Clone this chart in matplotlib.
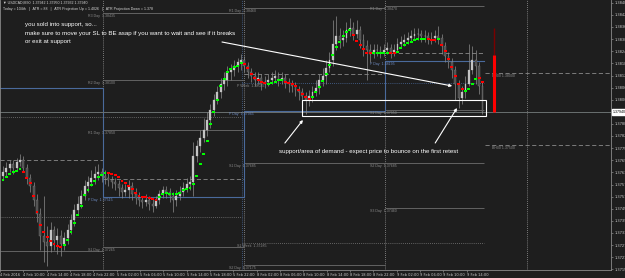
import matplotlib.pyplot as plt
import numpy as np
from matplotlib.patches import Rectangle
from matplotlib.transforms import blended_transform_factory

# USDCAD M30 candles
opens = [1.3762, 1.3764, 1.3766, 1.3768, 1.3766, 1.3769, 1.3770, 1.3766, 1.3761, 1.3757,
         1.3750, 1.3743, 1.3732, 1.3729, 1.3727, 1.3735, 1.3730, 1.3732, 1.3728, 1.3731,
         1.3735, 1.3740, 1.3745, 1.3748, 1.3752, 1.3757, 1.3759, 1.3761, 1.3763, 1.3764,
         1.3762, 1.3761, 1.3760, 1.3759, 1.3758, 1.3756, 1.3754, 1.3755, 1.3757, 1.3753,
         1.3751, 1.3750, 1.3749, 1.3750, 1.3748, 1.3747, 1.3750, 1.3753, 1.3755, 1.3754,
         1.3752, 1.3750, 1.3752, 1.3754, 1.3756, 1.3758, 1.3759, 1.3772, 1.3777, 1.3781,
         1.3785, 1.3790, 1.3795, 1.3800, 1.3804, 1.3808, 1.3810, 1.3814, 1.3815, 1.3817,
         1.3819, 1.3820, 1.3817, 1.3814, 1.3812, 1.3810, 1.3811, 1.3808, 1.3809, 1.3810,
         1.3811, 1.3812, 1.3810, 1.3811, 1.3809, 1.3808, 1.3807, 1.3805, 1.3804, 1.3802,
         1.3800, 1.3802, 1.3804, 1.3806, 1.3810, 1.3812, 1.3816, 1.3820, 1.3828, 1.3832,
         1.3830, 1.3831, 1.3835, 1.3836, 1.3833, 1.3835, 1.3830, 1.3827, 1.3825, 1.3823,
         1.3825, 1.3825, 1.3824, 1.3825, 1.3826, 1.3824, 1.3825, 1.3828, 1.3829, 1.3830,
         1.3831, 1.3832, 1.3833, 1.3833, 1.3832, 1.3832, 1.3831, 1.3831, 1.3832, 1.3831,
         1.3827, 1.3822, 1.3819, 1.3815, 1.3808, 1.3801, 1.3804, 1.3808, 1.3815, 1.3820,
         1.3817, 1.3807]
highs = [1.3767, 1.3769, 1.3770, 1.3770, 1.3771, 1.3773, 1.3772, 1.3768, 1.3763, 1.3759,
         1.3753, 1.3746, 1.3752, 1.3737, 1.3739, 1.3737, 1.3736, 1.3735, 1.3734, 1.3738,
         1.3743, 1.3748, 1.3752, 1.3755, 1.3760, 1.3762, 1.3765, 1.3767, 1.3768, 1.3766,
         1.3765, 1.3764, 1.3762, 1.3761, 1.3760, 1.3758, 1.3758, 1.3760, 1.3759, 1.3756,
         1.3754, 1.3752, 1.3753, 1.3752, 1.3751, 1.3752, 1.3755, 1.3757, 1.3757, 1.3756,
         1.3754, 1.3755, 1.3757, 1.3759, 1.3761, 1.3762, 1.3779, 1.3780, 1.3785, 1.3791,
         1.3794, 1.3798, 1.3803, 1.3807, 1.3811, 1.3814, 1.3817, 1.3818, 1.3820, 1.3821,
         1.3823, 1.3822, 1.3819, 1.3816, 1.3814, 1.3814, 1.3813, 1.3812, 1.3813, 1.3814,
         1.3815, 1.3814, 1.3814, 1.3813, 1.3811, 1.3810, 1.3809, 1.3807, 1.3806, 1.3804,
         1.3805, 1.3807, 1.3810, 1.3813, 1.3816, 1.3820, 1.3824, 1.3840, 1.3842, 1.3836,
         1.3835, 1.3839, 1.3841, 1.3839, 1.3840, 1.3837, 1.3833, 1.3830, 1.3828, 1.3828,
         1.3828, 1.3827, 1.3828, 1.3829, 1.3828, 1.3828, 1.3831, 1.3832, 1.3833, 1.3834,
         1.3835, 1.3836, 1.3836, 1.3835, 1.3835, 1.3834, 1.3834, 1.3835, 1.3837, 1.3833,
         1.3829, 1.3824, 1.3821, 1.3817, 1.3810, 1.3807, 1.3812, 1.3828, 1.3827, 1.3825,
         1.3819, 1.3809]
lows = [1.3760, 1.3762, 1.3764, 1.3763, 1.3765, 1.3767, 1.3764, 1.3758, 1.3754, 1.3747,
        1.3739, 1.3725, 1.3719, 1.3717, 1.3724, 1.3725, 1.3723, 1.3722, 1.3725, 1.3728,
        1.3733, 1.3737, 1.3743, 1.3746, 1.3750, 1.3754, 1.3757, 1.3758, 1.3760, 1.3759,
        1.3758, 1.3757, 1.3756, 1.3755, 1.3752, 1.3751, 1.3752, 1.3751, 1.3750, 1.3748,
        1.3747, 1.3746, 1.3747, 1.3745, 1.3744, 1.3746, 1.3748, 1.3751, 1.3751, 1.3749,
        1.3744, 1.3747, 1.3750, 1.3752, 1.3754, 1.3755, 1.3752, 1.3769, 1.3774, 1.3779,
        1.3782, 1.3786, 1.3792, 1.3798, 1.3801, 1.3805, 1.3807, 1.3810, 1.3812, 1.3814,
        1.3815, 1.3814, 1.3811, 1.3809, 1.3807, 1.3808, 1.3805, 1.3806, 1.3807, 1.3808,
        1.3809, 1.3807, 1.3808, 1.3806, 1.3804, 1.3804, 1.3802, 1.3800, 1.3792, 1.3793,
        1.3797, 1.3799, 1.3802, 1.3803, 1.3807, 1.3808, 1.3814, 1.3817, 1.3825, 1.3826,
        1.3827, 1.3829, 1.3832, 1.3830, 1.3831, 1.3826, 1.3822, 1.3810, 1.3819, 1.3821,
        1.3822, 1.3821, 1.3822, 1.3823, 1.3821, 1.3822, 1.3824, 1.3826, 1.3827, 1.3828,
        1.3829, 1.3830, 1.3830, 1.3829, 1.3829, 1.3828, 1.3828, 1.3829, 1.3828, 1.3823,
        1.3819, 1.3816, 1.3811, 1.3800, 1.3796, 1.3798, 1.3801, 1.3807, 1.3813, 1.3808,
        1.3803, 1.3793]
closes = [1.3764, 1.3766, 1.3768, 1.3766, 1.3769, 1.3770, 1.3766, 1.3761, 1.3757, 1.3750,
          1.3743, 1.3732, 1.3729, 1.3727, 1.3735, 1.3730, 1.3732, 1.3728, 1.3731, 1.3735,
          1.3740, 1.3745, 1.3748, 1.3752, 1.3757, 1.3759, 1.3761, 1.3763, 1.3764, 1.3762,
          1.3761, 1.3760, 1.3759, 1.3758, 1.3756, 1.3754, 1.3755, 1.3757, 1.3753, 1.3751,
          1.3750, 1.3749, 1.3750, 1.3748, 1.3747, 1.3750, 1.3753, 1.3755, 1.3754, 1.3752,
          1.3750, 1.3752, 1.3754, 1.3756, 1.3758, 1.3759, 1.3772, 1.3777, 1.3781, 1.3785,
          1.3790, 1.3795, 1.3800, 1.3804, 1.3808, 1.3810, 1.3814, 1.3815, 1.3817, 1.3819,
          1.3820, 1.3817, 1.3814, 1.3812, 1.3810, 1.3811, 1.3808, 1.3809, 1.3810, 1.3811,
          1.3812, 1.3810, 1.3811, 1.3809, 1.3808, 1.3807, 1.3805, 1.3804, 1.3802, 1.3800,
          1.3802, 1.3804, 1.3806, 1.3810, 1.3812, 1.3816, 1.3820, 1.3828, 1.3832, 1.3830,
          1.3831, 1.3835, 1.3836, 1.3833, 1.3835, 1.3830, 1.3827, 1.3825, 1.3823, 1.3825,
          1.3825, 1.3824, 1.3825, 1.3826, 1.3824, 1.3825, 1.3828, 1.3829, 1.3830, 1.3831,
          1.3832, 1.3833, 1.3833, 1.3832, 1.3832, 1.3831, 1.3831, 1.3832, 1.3831, 1.3827,
          1.3822, 1.3819, 1.3815, 1.3808, 1.3801, 1.3804, 1.3808, 1.3815, 1.3820, 1.3817,
          1.3807, 1.3794]

# trend dots, G = rising (green), R = falling (red)
trend = [1.3760, 1.37615, 1.3763, 1.3764, 1.37645, 1.37655, 1.3764, 1.3761, 1.37585, 1.3752,
         1.3744, 1.37375, 1.3734, 1.37315, 1.37295, 1.3728, 1.3727, 1.37265, 1.37275, 1.3730,
         1.3734, 1.37385, 1.37425, 1.3747, 1.37525, 1.3755, 1.37575, 1.37595, 1.37615, 1.37625,
         1.37635, 1.37635, 1.3763, 1.37625, 1.37615, 1.37595, 1.37585, 1.3757, 1.37555, 1.37535,
         1.3752, 1.37515, 1.37515, 1.3751, 1.37505, 1.3750, 1.37515, 1.3753, 1.37535, 1.3753,
         1.3753, 1.3753, 1.37535, 1.3755, 1.37555, 1.3756, 1.3758, 1.3762, 1.3768, 1.3773,
         1.37795, 1.3788, 1.3794, 1.3800, 1.3807, 1.38105, 1.3814, 1.38155, 1.38165, 1.3817,
         1.38185, 1.3818, 1.3816, 1.3813, 1.3811, 1.3810, 1.3809, 1.38085, 1.3808, 1.38085,
         1.3809, 1.3810, 1.3810, 1.3809, 1.38085, 1.3808, 1.3807, 1.3805, 1.3803, 1.38015,
         1.38005, 1.38015, 1.3804, 1.38065, 1.38095, 1.3813, 1.38175, 1.38225, 1.38265, 1.3829,
         1.3832, 1.3834, 1.3835, 1.38325, 1.38295, 1.38275, 1.38255, 1.38235, 1.38235, 1.38235,
         1.38235, 1.38235, 1.38235, 1.38235, 1.38235, 1.38235, 1.3824, 1.3826, 1.38275, 1.38285,
         1.3829, 1.3830, 1.38305, 1.38305, 1.38305, 1.38305, 1.3830, 1.3830, 1.38305, 1.38275,
         1.38245, 1.38205, 1.38165, 1.3812, 1.3808, 1.38055, 1.38045, 1.38055, 1.3808, 1.38105,
         1.3811, 1.3809]
trend_dir = ("GGGGGGRRRR" "RRRRRRRRGG" "GGGGGGGGGG" "GRRRRRRRRR" "RRRRRRGGGG"
             "GGGGGGGGGG" "GGGGGGGGGG" "GRRRRRRRGG" "GGGRRRRRRR" "RGGGGGGGGG"
             "GGGRRRRRRG" "GGGGRRGGGG" "GGGGGRRRGR" "RRRRRRGGGG" "RR")

# daily pivots (4, 5, 8, 9 Feb)
day_edges = [-0.9, 29.4, 71.0, 112.4, 154.1]
day_pivot = [1.3806, 1.37515, 1.37945, 1.38195]
day_levels = {
    "R3": [None, 1.38435, None, None],
    "R2": [None, 1.3810, None, None],
    "R1": [None, 1.3785, 1.3846, 1.3847],
    "S1": [1.37245, 1.37265, 1.37685, 1.3795],
    "S2": [None, None, 1.37175, 1.37685],
    "S3": [None, None, None, 1.3746],
}
day_mid = [1.3770, 1.37605, 1.3813, 1.38235]

# weekly levels
week_edges = [-0.9, 70.3, 141.5]
week_lines = [[1.37915, 1.37415], [1.38085, 1.37285]]
week_names = [[None, None], ["P Week", "S1 Week"]]

# round number lines on the right
round_lines = [1.38135, 1.37775]
round_names = ["BH00 1.38000", "BH00 1.37500"]

# ATR projection bar
atr_low, atr_mid, atr_high = 1.3794, 1.38225, 1.3836

time_labels = ["4 Feb 2016", "4 Feb 10:00", "4 Feb 14:00", "4 Feb 18:00", "4 Feb 22:00",
               "5 Feb 02:00", "5 Feb 06:00", "5 Feb 10:00", "5 Feb 14:00", "5 Feb 18:00",
               "5 Feb 22:00", "8 Feb 02:00", "8 Feb 06:00", "8 Feb 10:00", "8 Feb 14:00",
               "8 Feb 18:00", "8 Feb 22:00", "9 Feb 02:00", "9 Feb 06:00", "9 Feb 10:00",
               "9 Feb 14:00"]
# 1.37941 sits under the current price box
price_labels = ["1.38486", "1.38425", "1.38365", "1.38304", "1.38244", "1.38183", "1.38122",
                "1.38062", "1.38001", "1.37880", "1.37820", "1.37759", "1.37698",
                "1.37638", "1.37577", "1.37516", "1.37456", "1.37395", "1.37335", "1.37274",
                "1.37213", "1.37153"]

bg = "#1e1e1e"
grey = "#6e6e6e"
blue = "#4a6a9c"
small = 2.6
fam = ["Liberation Sans", "DejaVu Sans"]

fig = plt.figure(figsize=(6.25, 2.78), dpi=100, facecolor=bg)
ax = fig.add_axes([0, 8 / 278, 611 / 625, 270 / 278], facecolor=bg)
ax.set_xlim(-0.88, 178.8)
ax.set_ylim(1.3715, 1.3850)

# day separators
for e in day_edges[1:]:
    ax.axvline(e, color="#9a9a9a", lw=0.6, ls=(0, (1, 1.5)), zorder=1)
ax.axvline(week_edges[1], color=blue, lw=0.6, ls=(0, (1, 1.5)), zorder=1)

n = len(closes)
last = n - 0.5

# daily pivot lines
for d in range(len(day_pivot)):
    x0, x1 = day_edges[d], min(day_edges[d + 1], last)
    ax.hlines(day_mid[d], x0, x1, color="#8a8a8a", lw=0.6, ls=(0, (5, 3)), zorder=1)
    for name, vals in day_levels.items():
        if vals[d] is None:
            continue
        ax.hlines(vals[d], x0, x1, color=grey, lw=0.6, zorder=1)
        if d > 0:
            ax.text(x0 - 4.4, vals[d] - 0.00003, f"{name} Day  {vals[d]:.5f}", color="#8a8a8a",
                    fontsize=small, va="top", ha="left", family=fam, zorder=2)
    if d > 0:
        ax.text(x0 - 4.4, day_pivot[d] - 0.00003, f"P Day  {day_pivot[d]:.5f}", color="#6d8ac0",
                fontsize=small, va="top", ha="left", family=fam, zorder=2)
step_x = day_edges[:4] + [last]
ax.step(step_x, day_pivot + [day_pivot[-1]], where="post", color=blue, lw=0.8, zorder=1)

# weekly levels
for w in range(2):
    for v, name in zip(week_lines[w], week_names[w]):
        col = blue if name == "P Week" else "#7a7a7a"
        ax.hlines(v, week_edges[w], week_edges[w + 1], color=col, lw=0.6, ls=(0, (1, 1.5)), zorder=1)
        if name:
            ax.text(week_edges[w] - 1.6, v - 0.00003, f"{name}  {v:.5f}", color="#8a8a8a",
                    fontsize=small, va="top", ha="left", family=fam, zorder=2)

# round numbers in the empty area
for v, name in zip(round_lines, round_names):
    ax.hlines(v, last + 0.3, 178.8, color="#8a8a8a", lw=0.6, ls=(0, (5, 3)), zorder=1)
    ax.text(last + 2.3, v - 0.00004, name, color="#8a8a8a", fontsize=small, va="top",
            ha="left", family=fam, zorder=2)

# current price line
ax.axhline(closes[-1], color="#6a7070", lw=0.7, zorder=1)

# candles
x = np.arange(n)
o = np.array(opens)
c = np.array(closes)
up = c >= o
ax.vlines(x, lows, highs, color="#8c8c8c", lw=0.5, zorder=3)
ax.bar(x[up], (c - o)[up], bottom=o[up], width=0.55, color="#c4c4c4",
       edgecolor="#c4c4c4", lw=0.2, zorder=4)
ax.bar(x[~up], (c - o)[~up], bottom=o[~up], width=0.55, color="#4a4a4a",
       edgecolor="#9a9a9a", lw=0.2, zorder=4)

# trend dots
dot_col = ["#00ff00" if t == "G" else "#ff0000" for t in trend_dir]
ax.scatter(x, trend, c=dot_col, s=4.5, marker="s", lw=0, zorder=5)

# ATR projection bar
ax.vlines(144.4, atr_mid, atr_high, color="#7a0000", lw=1.0, zorder=4)
ax.vlines(144.4, atr_low, atr_mid, color="#ff0000", lw=2.2, zorder=4)

# annotations
note = "white"
ax.text(6.5, 1.38375, "you sold into support, so...", color=note, fontsize=4.4,
        va="center", ha="left", family=fam, zorder=6)
ax.text(6.5, 1.38334, "make sure to move your SL to BE asap if you want to wait and see if it breaks",
        color=note, fontsize=4.4, va="center", ha="left", family=fam, zorder=6)
ax.text(6.5, 1.38292, "or exit at support", color=note, fontsize=4.4,
        va="center", ha="left", family=fam, zorder=6)
ax.text(81.2, 1.3774, "support/area of demand - expect price to bounce on the first retest",
        color=note, fontsize=4.4, va="center", ha="left", family=fam, zorder=6)
ax.add_patch(Rectangle((87.9, 1.3792), 142.1 - 87.9, 0.0008, fill=False,
                       ec="white", lw=0.8, zorder=6))
arrow = dict(arrowstyle="-|>", color="white", lw=0.8, mutation_scale=4, shrinkA=0, shrinkB=0)
ax.annotate("", xy=(132.1, 1.3807), xytext=(64.4, 1.3829), arrowprops=arrow, zorder=6)
ax.annotate("", xy=(88.2, 1.3790), xytext=(82.9, 1.37785), arrowprops=arrow, zorder=6)
ax.annotate("", xy=(133.5, 1.3796), xytext=(127.1, 1.37785), arrowprops=arrow, zorder=6)

# header
ax.text(0.005, 0.997, "\u25bc USDCAD,M30  1.37942 1.37950 1.37932 1.37940", transform=ax.transAxes,
        color="#d8d8d8", fontsize=small, va="top", ha="left", family=fam)
ax.text(0.005, 0.975, "Today = 104th   |   ATR = 88   |   ATR Projection Up = 1.4026   |   ATR Projection Down = 1.378",
        transform=ax.transAxes, color="#d8d8d8", fontsize=small, va="top", ha="left", family=fam)

# axes
ax.spines["top"].set_visible(False)
for s in ["left", "right", "bottom"]:
    ax.spines[s].set_color("#8a8a8a")
    ax.spines[s].set_linewidth(0.6)
tick_pos = (np.arange(len(time_labels)) * 23.33 - 3) / 3.4
ax.set_xticks(tick_pos)
ax.set_xticklabels(time_labels)
ax.tick_params(axis="x", colors="#8a8a8a", labelcolor="#c8c8c8", labelsize=small,
               length=1.5, width=0.5, pad=1)
for t in ax.get_xticklabels():
    t.set_ha("left")
ax.yaxis.tick_right()
ax.set_yticks([float(p) for p in price_labels])
ax.set_yticklabels(price_labels)
ax.tick_params(axis="y", colors="#8a8a8a", labelcolor="#c8c8c8", labelsize=small,
               length=1.5, width=0.5, pad=1)
tr = blended_transform_factory(ax.transAxes, ax.transData)
ax.text(1.003, closes[-1], f"{closes[-1]:.5f}", transform=tr, color="black", fontsize=small,
        va="center", ha="left", family=fam, zorder=10, clip_on=False,
        bbox=dict(boxstyle="square,pad=0.15", fc="white", ec="white"))

fig.savefig("out.png", dpi=100, facecolor=bg)
